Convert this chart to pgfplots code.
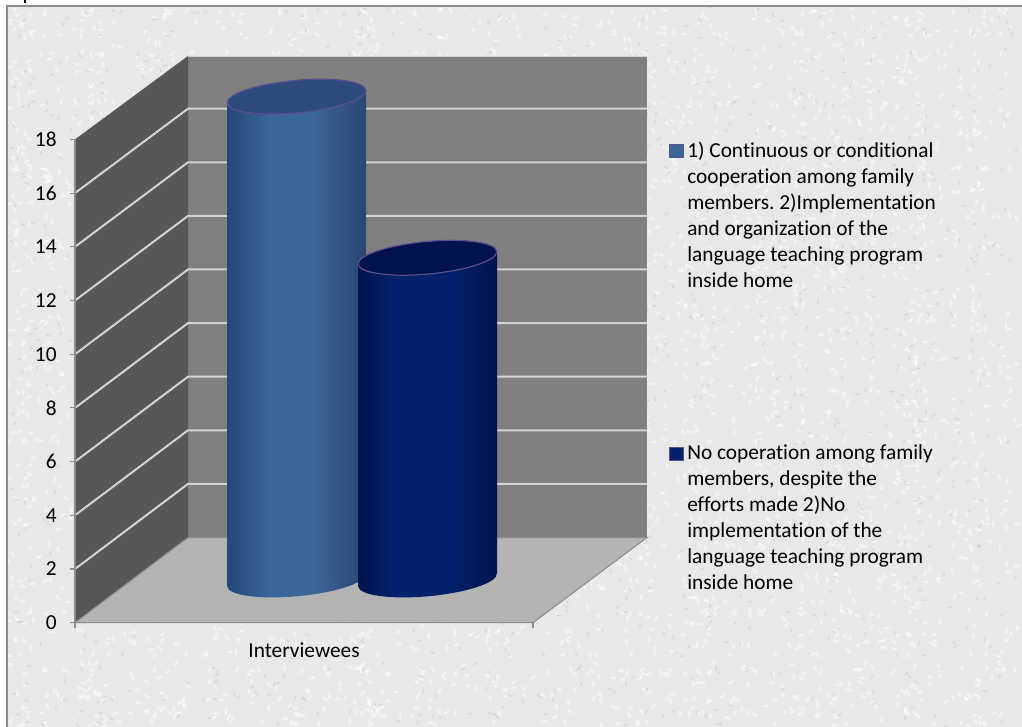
\documentclass[border=0pt]{standalone}
\usepackage{pgfplots}
\pgfplotsset{compat=1.18}
\usepackage{fontspec}
\setmainfont{Carlito}[Ligatures=NoCommon]
\frenchspacing

% 1 px of the reference = 0.75pt here
\definecolor{paper}{HTML}{E8E8E6}
\definecolor{frameline}{HTML}{8C8C8C}
\definecolor{backwall}{HTML}{808080}
\definecolor{sidewall}{HTML}{575757}
\definecolor{floorcol}{HTML}{B4B4B4}
\definecolor{gridcol}{HTML}{D4D4D4}
\definecolor{capline}{HTML}{5D4F8E}
\definecolor{blueedge}{HTML}{244878}
\definecolor{bluemid}{HTML}{3A6698}
\definecolor{blueright}{HTML}{2A4672}
\definecolor{bluecap}{HTML}{2D4B7C}
\definecolor{navyedge}{HTML}{00134C}
\definecolor{navymid}{HTML}{03226B}
\definecolor{navycap}{HTML}{00134C}

% the shadings fit the path's box to the 25bp-75bp stretch
\pgfdeclarehorizontalshading{cylblue}{100bp}{color(0bp)=(blueedge); color(25bp)=(blueedge);
  color(40bp)=(bluemid); color(56bp)=(bluemid); color(75bp)=(blueright); color(100bp)=(blueright)}
\pgfdeclarehorizontalshading{cylnavy}{100bp}{color(0bp)=(navyedge); color(25bp)=(navyedge);
  color(38bp)=(navymid); color(58bp)=(navymid); color(75bp)=(navyedge); color(100bp)=(navyedge)}

% cylinder caps: tilted ellipse, 139 px wide
\newcommand{\capellipse}{%
  \pgftransformrotate{5.3}%
  \pgfpathellipse{\pgfpointorigin}{\pgfqpoint{52.2pt}{0pt}}{\pgfqpoint{0pt}{12.2pt}}}
\pgfdeclareplotmark{cyltop}{\capellipse\pgfusepathqfillstroke}
\pgfdeclareplotmark{cylbaseblue}{\capellipse\pgfshadepath{cylblue}{0}\pgfusepath{discard}}
\pgfdeclareplotmark{cylbasenavy}{\capellipse\pgfshadepath{cylnavy}{0}\pgfusepath{discard}}

\pgfplotsset{
  pxaxis/.style={
    scale only axis, anchor=south west, width=766.5pt,
    xmin=0, xmax=1022, clip=false,
  },
}

\begin{document}
\begin{tikzpicture}[x=1pt,y=1pt]
\path[use as bounding box] (0,0) rectangle (766.5,545.25);

% paper background, mottled by a fixed hash of the loop index
\fill[paper] (5.2,0) rectangle (766.5,541);
\begin{scope}
\clip (5.2,0) rectangle (766.5,541);
\foreach \i in {1,...,5200} {
  \pgfmathsetmacro{\px}{mod(abs(sin(mod(\i,997)*12.9898))*4375.453,1)*766.5}
  \pgfmathsetmacro{\py}{mod(abs(sin(mod(\i,991)*7.233+11))*3758.545,1)*541}
  \pgfmathsetmacro{\ang}{mod(mod(\i,180)*61,180)}
  \pgfmathtruncatemacro{\kind}{mod(\i,4)}
  \ifnum\kind=0
    \draw[gray!80,opacity=.22,line width=.9pt,line cap=round] (\px,\py) -- ++(\ang:2.5);
  \else
    \draw[white,opacity=.45,line width=1.8pt,line cap=round] (\px,\py) -- ++(\ang:3);
  \fi
}
\end{scope}
\draw[frameline,line width=1.5pt] (5.2,-1) -- (5.2,541) -- (767,541);
\draw[black,line width=.9pt] (18.7,545.25) -- (18.7,543.2);

% walls and floor, in reference pixels
\begin{axis}[pxaxis, at={(0,0)}, height=545.25pt, ymin=0, ymax=727, y dir=reverse, hide axis]
  \addplot[draw=none, fill=backwall] coordinates {(188,56)(647,56)(647,537.5)(188,537.5)} -- cycle;
  \addplot[draw=none, fill=sidewall] coordinates {(75,622.7)(75,139.4)(188,56)(188,537.5)} -- cycle;
  \addplot[draw=frameline, line width=.8pt, fill=floorcol] coordinates {(75,622.7)(533,622.7)(647,537.5)(188,537.5)} -- cycle;
  \addplot[gridcol, line width=.6pt] coordinates {(188,56)(647,56)};
  % gridlines at 2,4,...,16 on side wall and back wall
  \addplot[gridcol, line width=1.5pt, unbounded coords=jump] table[row sep=crcr] {
    x y\\
    75 569 \\ 188 483.9 \\ 647 483.9 \\ nan nan \\
    75 515.3 \\ 188 430.3 \\ 647 430.3 \\ nan nan \\
    75 461.6 \\ 188 376.7 \\ 647 376.7 \\ nan nan \\
    75 407.9 \\ 188 323.1 \\ 647 323.1 \\ nan nan \\
    75 354.2 \\ 188 269.5 \\ 647 269.5 \\ nan nan \\
    75 300.5 \\ 188 215.9 \\ 647 215.9 \\ nan nan \\
    75 246.8 \\ 188 162.3 \\ 647 162.3 \\ nan nan \\
    75 193.1 \\ 188 108.7 \\ 647 108.7 \\
  };
\end{axis}

% value axis along the front edge
\begin{axis}[
  scale only axis, anchor=south west,
  at={(56.25pt,78.225pt)}, width=343.5pt, height=362.5pt,
  xmin=0, xmax=1, ymin=0, ymax=18,
  axis x line*=bottom, axis y line*=left,
  axis line style={frameline, line width=.8pt, -},
  tick style={frameline, line width=.8pt},
  tick align=outside, major tick length=3.75pt,
  ytick={0,2,...,18}, xtick={0,1}, xticklabels={},
  /pgf/number format/assume math mode=true,
  tick label style={font=\fontsize{16}{18}\selectfont},
  y tick label style={xshift=-6.5pt},
  xlabel={Interviewees},
  x label style={at={(axis description cs:0.5,0)}, anchor=base, yshift=-26pt, font=\fontsize{16}{18}\selectfont},
]
\end{axis}

% cylinders: 18 and 12, standing on the floor (value 0 at pixel row 580)
% body corners carry +-0.24 of tilt so that they meet the caps' ends
\begin{axis}[pxaxis, at={(0,110.25pt)}, height=362.5pt, ymin=0, ymax=18, hide axis, clip marker paths=true]
  \addplot[only marks, mark=cylbaseblue] coordinates {(296.5,0)};
  \addplot[draw=none, shade, shading=cylblue]
    coordinates {(227,-0.24)(227,17.76)(366,18.24)(366,0.24)} -- cycle;
  \addplot[only marks, mark=cyltop, mark options={fill=bluecap, draw=capline, line width=.9pt}] coordinates {(296.5,18)};

  \addplot[only marks, mark=cylbasenavy] coordinates {(427.5,0)};
  \addplot[draw=none, shade, shading=cylnavy]
    coordinates {(358,-0.24)(358,11.76)(497,12.24)(497,0.24)} -- cycle;
  \addplot[only marks, mark=cyltop, mark options={fill=navycap, draw=capline, line width=.9pt}] coordinates {(427.5,12)};
\end{axis}

% legend, placed by hand as in the reference
\begin{axis}[pxaxis, at={(0,0)}, height=545.25pt, ymin=0, ymax=727, y dir=reverse, hide axis]
  \addplot[draw=capline, line width=.5pt, fill=bluemid] coordinates {(669,144)(683,144)(683,157)(669,157)} -- cycle;
  \addplot[draw=capline, line width=.5pt, fill=navymid] coordinates {(669,447)(683,447)(683,460)(669,460)} -- cycle;
  \node[anchor=north west, inner sep=0pt, align=left, font=\fontsize{16}{19.5}\selectfont] at (axis cs:687,142)
    {1) Continuous or conditional\\cooperation among family\\members. 2)Implementation\\and organization of the\\language teaching program\\inside home};
  \node[anchor=north west, inner sep=0pt, align=left, font=\fontsize{16}{19.5}\selectfont] at (axis cs:687,444)
    {No coperation among family\\members, despite the\\efforts made 2)No\\implementation of the\\language teaching program\\inside home};
\end{axis}
\end{tikzpicture}
\end{document}
